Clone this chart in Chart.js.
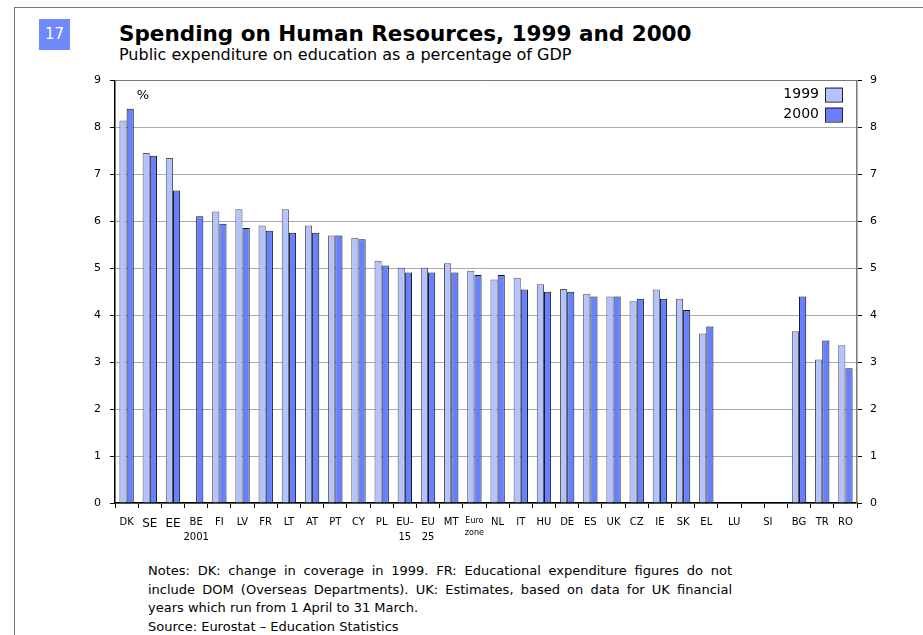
<!DOCTYPE html>
<html>
<head>
<meta charset="utf-8">
<script src="https://cdn.jsdelivr.net/npm/chart.js@4.4.1/dist/chart.umd.min.js"></script>
<style>
    body { margin: 0; background: #fff; font-family: 'DejaVu Sans', Verdana, sans-serif; }
    #page { position: relative; width: 923px; height: 635px; overflow: hidden; }
    #frame { position: absolute; left: 14px; top: 7px; width: 940px; height: 700px; border: 1px solid #777; }
    #badge { position: absolute; left: 39px; top: 19px; width: 31px; height: 31px; background: #7189ff;
             color: #fff; font-size: 15px; line-height: 31px; text-align: center; }
    #title { position: absolute; left: 119px; top: 21px; font-size: 21.5px; font-weight: bold; color: #000; }
    #subtitle { position: absolute; left: 119px; top: 45px; font-size: 16px; color: #000; }
    #box { position: absolute; left: 0; top: 65px; width: 923px; height: 485px; }
    #notes { position: absolute; left: 148px; top: 562px; width: 584px; font-size: 13px; line-height: 18.7px;
             color: #000; text-align: justify; }
</style>
</head>
<body>
<div id="page">
    <div id="frame"></div>
    <div id="badge">17</div>
    <div id="title">Spending on Human Resources, 1999 and 2000</div>
    <div id="subtitle">Public expenditure on education as a percentage of GDP</div>
    <div id="box"><canvas id="chart"></canvas></div>
    <div id="notes">Notes: DK: change in coverage in 1999. FR: Educational expenditure figures do not
        include DOM (Overseas Departments). UK: Estimates, based on data for UK financial
        years which run from 1 April to 31 March.<br>Source: Eurostat &ndash; Education Statistics</div>
</div>
<script>
// categories (LU and SI have no data, one blank slot between them)
const countries = ['DK', 'SE', 'EE', ['BE', '2001'], 'FI', 'LV', 'FR', 'LT', 'AT', 'PT', 'CY', 'PL',
    ['EU-', '15'], ['EU', '25'], 'MT', ['Euro', 'zone'], 'NL', 'IT', 'HU', 'DE', 'ES', 'UK', 'CZ', 'IE',
    'SK', 'EL', '   LU', '', 'SI     ', 'BG', 'TR', 'RO'];

const values1999 = [8.15, 7.46, 7.35, null, 6.21, 6.26, 5.91, 6.26, 5.91, 5.70, 5.65, 5.16,
    5.01, 5.01, 5.11, 4.95, 4.76, 4.80, 4.66, 4.56, 4.46, 4.40, 4.30, 4.55,
    4.35, 3.61, null, null, null, 3.66, 3.06, 3.36];

const values2000 = [8.40, 7.40, 6.66, 6.11, 5.95, 5.86, 5.80, 5.76, 5.76, 5.70, 5.62, 5.06,
    4.91, 4.91, 4.91, 4.86, 4.86, 4.55, 4.50, 4.50, 4.40, 4.40, 4.35, 4.35,
    4.11, 3.76, null, null, null, 4.40, 3.46, 2.87];

const yTicks = [0, 1, 2, 3, 4, 5, 6, 7, 8, 9];

const seriesNames = ['1999', '2000'];
const fillColors = ['#b4c2ff', '#6680ff'];
const edgeColors = ['#555', '#111'];

// legend drawn in the top right corner of the plot, text left of the box
const cornerLegend = {
    id: 'cornerLegend',
    afterDraw(chart) {
        const ctx = chart.ctx;
        const area = chart.chartArea;
        ctx.save();
        ctx.font = '14px "DejaVu Sans"';
        ctx.textAlign = 'right';
        ctx.textBaseline = 'middle';
        chart.data.datasets.forEach((ds, i) => {
            const y = area.top + 14 + i * 20;
            ctx.fillStyle = '#000';
            ctx.fillText(ds.label, area.right - 38, y);
            ctx.fillStyle = ds.backgroundColor;
            ctx.fillRect(area.right - 32, y - 7, 17, 14);
            ctx.strokeStyle = '#222';
            ctx.lineWidth = 1;
            ctx.strokeRect(area.right - 31.5, y - 6.5, 17, 14);
        });
        // unit label
        ctx.font = '13px "DejaVu Sans"';
        ctx.textAlign = 'center';
        ctx.fillStyle = '#000';
        ctx.fillText('%', area.left + 28, area.top + 15);
        ctx.restore();
    }
};

new Chart(document.getElementById('chart').getContext('2d'), {
    type: 'bar',
    data: {
        labels: countries,
        datasets: [values1999, values2000].map((vals, i) => ({
            label: seriesNames[i],
            data: vals,
            backgroundColor: fillColors[i],
            borderColor: edgeColors[i],
            borderWidth: 1,
            categoryPercentage: 0.62,
            barPercentage: 1.0
        }))
    },
    options: {
        responsive: true,
        maintainAspectRatio: false,
        animation: false,
        layout: { padding: { top: 0, left: 0, right: 0, bottom: 0 } },
        plugins: {
            legend: { display: false },
            tooltip: { enabled: false }
        },
        scales: {
            x: {
                grid: { drawOnChartArea: false, drawTicks: true, tickLength: 5, tickColor: '#000', offset: true },
                border: { color: '#000', width: 1.5 },
                ticks: {
                    color: '#000',
                    autoSkip: false,
                    maxRotation: 0,
                    padding: 7,
                    font: (c) => ({
                        family: 'DejaVu Sans',
                        size: c.index === 15 ? 8 : (c.index === 1 || c.index === 2 ? 12 : 10),
                        lineHeight: 1.5
                    })
                },
                afterFit(scale) { scale.height = 47; }
            },
            y: {
                position: 'left',
                min: 0,
                max: 9,
                afterBuildTicks(scale) { scale.ticks = yTicks.map(v => ({ value: v })); },
                grid: {
                    color: (c) => c.tick && c.tick.value === 9 ? '#777' : '#aaa',
                    lineWidth: 1,
                    tickLength: 5,
                    tickColor: '#000'
                },
                border: { color: '#000', width: 1.5 },
                ticks: { color: '#000', padding: 9, font: { family: 'DejaVu Sans', size: 11 } },
                afterFit(scale) { scale.width = 115; }
            },
            y2: {
                position: 'right',
                min: 0,
                max: 9,
                afterBuildTicks(scale) { scale.ticks = yTicks.map(v => ({ value: v })); },
                grid: { drawOnChartArea: false, tickLength: 5, tickColor: '#000' },
                border: { color: '#777', width: 1.5 },
                ticks: { color: '#000', padding: 8, font: { family: 'DejaVu Sans', size: 11 } },
                afterFit(scale) { scale.width = 66; }
            }
        }
    },
    plugins: [cornerLegend]
});
</script>
</body>
</html>
